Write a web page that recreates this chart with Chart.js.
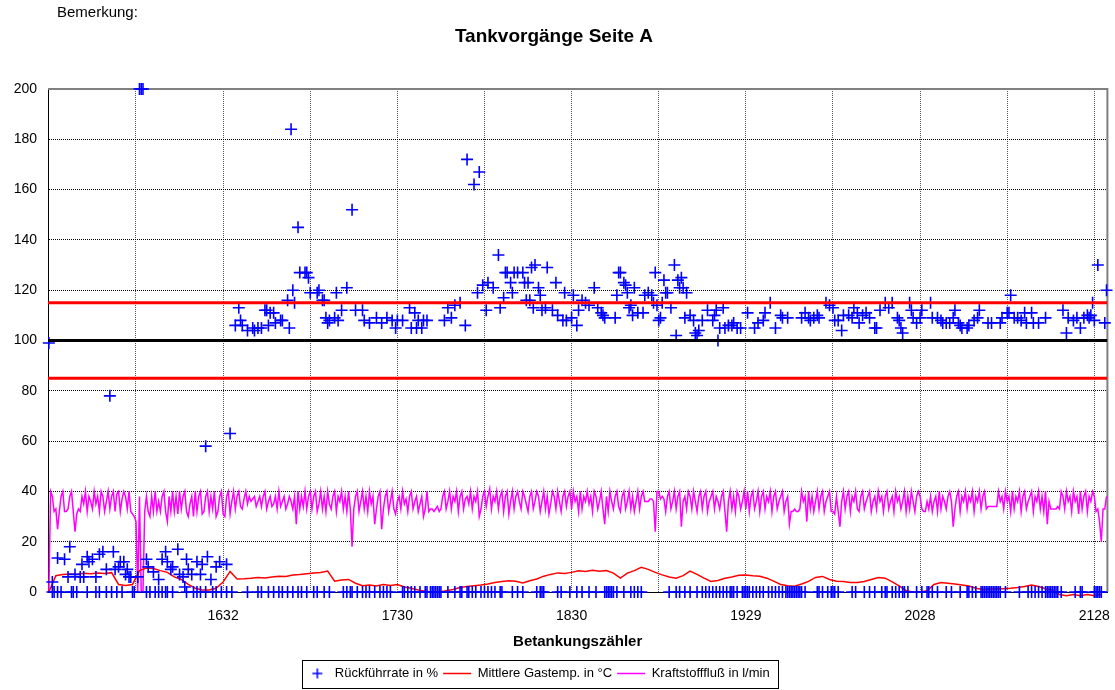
<!DOCTYPE html>
<html lang="de">
<head>
<meta charset="utf-8">
<title>Tankvorgänge Seite A</title>
<script src="https://cdn.jsdelivr.net/npm/chart.js@4.4.1/dist/chart.umd.min.js"></script>
<style>
  html, body { margin: 0; padding: 0; background: #fff; }
</style>
</head>
<body>
<canvas id="tankChart" width="1115" height="690"></canvas>
<script>
// Position im Ausschnitt (laufende Nummer der Betankung), Beschriftung = Zählerstand
const gridPos = [50, 100, 150, 200, 250, 300, 350, 400, 450, 500, 550, 600];
const tickPos = [100, 200, 300, 400, 500, 600];
const tickLabels = ['1632', '1730', '1830', '1929', '2028', '2128'];

// Grenzlinien in %
const limits = [85, 100, 115];

// Rückführrate in % : [Position, Wert]
const ruckPoints = [
  [0,99],[2,4],[5,13.5],[9,13],[11,6],[12,18],[15,7],[18,6],[19,11],[20,6],[22,14],[23,12],[25,13],[27,6],[29,15],
  [31,16],[33,9],[35,78],[37,16],[38,9],[40,10],[41,12],[43,12],[44,7],[45,9],[46,6],[47,6],[51,6],[52,200],[53,200],
  [54,200],[56,13],[57,10],[60,8],[63,5],[65,13],[67,16],[68,12],[70,9],[71,10],[74,17],[75,7],[77,6],[78,2],[79,13],
  [80,9],[82,7],[85,12],[87,7],[88,11],[90,58],[91,14],[93,5],[96,10],[98,12],[102,11],[104,63],
  [107,106],[109,113],[110,108],[111,106],[114,104],[117,105],[118,104],[120,105],[122,105],[124,112],[125,112],
  [126,106],[127,111],[129,111],[130,107],[133,108],[134,108],[137,116],[138,105],[139,184],[140,120],[141,115],
  [143,145],[144,127],[147,127],[148,127],[149,125],[150,119],[154,119],[155,120],[157,116],[158,116],[159,109],
  [160,107],[161,108],[164,109],[165,119],[166,108],[168,112],[171,121],[174,152],[176,112],[180,112],[181,108],
  [184,107],[188,109],[191,107],[194,109],[197,108],[199,105],[200,108],[203,108],[207,113],[208,105],[210,111],
  [211,105],[212,108],[214,105],[215,108],[217,108],[227,108],[229,113],[231,109],[233,114],[236,115],[239,106],
  [240,172],[244,162],[246,119],[247,167],[249,122],[251,112],[252,123],[255,121],[258,134],[259,113],[261,117],
  [262,127],[263,127],[265,123],[266,119],[267,127],[269,127],[272,127],[273,123],[274,116],[275,123],[276,116],
  [277,129],[278,113],[279,130],[281,121],[282,118],[283,112],[285,113],[286,129],[289,112],[291,123],[292,110],
  [295,108],[296,119],[297,108],[300,109],[301,118],[303,106],[304,112],[306,116],[308,115],[310,114],[313,121],
  [315,113],[317,111],[318,110],[319,109],[325,109],[326,118],[327,127],[328,127],[330,123],[331,122],[332,119],
  [333,113],[334,114],[335,110],[336,121],[338,111],[341,111],[342,118],[344,119],[346,118],[347,115],[348,127],
  [349,114],[350,108],[351,109],[352,115],[353,124],[354,119],[355,119],[357,113],[359,130],[360,102],[361,124],
  [362,121],[363,125],[364,121],[365,109],[366,119],[368,110],[370,108],[371,103],[372,102],[373,104],[375,108],
  [378,112],[381,108],[382,110],[383,112],[384,100],[385,105],[387,113],[388,105],[390,106],[392,106],[393,107],
  [395,105],[397,105],[401,111],[405,105],[407,107],[410,108],[411,111],[414,115],[417,105],[420,110],[421,109],
  [424,109],[432,109],[434,111],[436,109],[437,108],[439,109],[441,110],[442,109],[446,115],[448,114],[450,113],
  [451,108],[453,108],[455,104],[456,110],[459,110],[461,109],[462,113],[464,111],[465,107],[467,110],[469,111],
  [471,109],[474,105],[475,105],[477,112],[480,115],[482,113],[484,115],[487,109],[488,108],[489,105],[490,103],
  [494,115],[495,112],[496,109],[498,107],[500,109],[501,112],[506,115],[507,109],[510,109],[512,108],[513,107],
  [515,107],[517,107],[519,109],[520,112],[522,107],[523,106],[524,105],[527,105],[528,106],[531,108],[533,109],
  [534,112],[539,107],[541,107],[546,107],[547,109],[550,111],[551,111],[552,118],[554,109],[556,109],[558,108],
  [560,111],[561,107],[564,111],[565,107],[568,107],[572,109],[582,112],[584,103],[585,109],[588,108],[590,109],
  [592,105],[594,109],[596,110],[597,109],[598,110],[599,115],[600,108],[602,130],[606,107],[607,120]
];
// Positionen mit Rückführrate 0 %
const ruckZero = [
  2,3,5,7,13,14,16,22,27,29,33,36,39,42,48,49,56,58,61,63,65,67,68,71,79,83,85,87,90,94,96,99,102,105,114,120,
  122,126,129,132,134,137,140,143,145,148,152,154,158,161,169,171,173,174,177,180,182,184,187,190,192,194,196,
  203,204,206,208,210,213,216,217,219,220,221,222,223,224,225,229,233,236,237,240,241,243,245,248,250,252,254,
  256,259,260,266,269,272,280,282,283,284,292,294,299,303,306,310,314,319,320,321,322,323,324,326,330,334,336,
  338,340,356,360,362,365,368,372,375,377,379,381,383,385,387,389,391,392,393,395,398,399,400,401,402,404,406,
  408,410,413,415,417,419,421,423,424,425,426,427,428,429,430,431,432,434,441,442,444,447,449,450,451,453,461,
  463,468,471,474,478,480,481,484,486,488,490,491,493,498,501,504,505,507,510,515,518,523,527,528,530,532,535,
  536,537,538,539,540,541,542,543,544,545,546,549,557,562,564,566,568,570,572,573,574,575,576,577,578,579,581,
  589,592,593,600,601,602,603,604
];

// Mittlere Gastemperatur in °C, jede 4. Position
const GAS_STEP = 4;
const gasTemp = [
  0,6.5,7,7.2,7,7.5,7.3,7.6,7.4,7.7, 3,2.6,3,8.5,9.5,9.3,8.5,7.8,6,5,
  3,1.5,0.8,0.8,1.5,4,8.2,5.2,5.3,5.5, 5.8,5.6,6,6.3,6.2,6.8,7,7.3,7.6,7.8,
  8.3,4.3,4.8,5,3.5,2.5,2.8,2.4,3,2.6, 3,2,1.5,0.8,0.3,0,0,0.5,1,1.8,
  2.2,2.5,2.8,3.2,3.8,4.2,4.5,4.3,3.6,4.5, 5.2,6.3,7,7.6,7.4,7.8,8.4,8.2,8.6,8.3,
  8.5,7.5,5.5,7.5,8.5,9.8,9,7.8,6.8,6, 5.5,6.5,8.3,7,5.5,4.2,4.6,5.5,6,6.7,
  6.8,6.5,6.3,5.5,4.3,3,2.5,2.3,3.2,4.2, 5.8,6.2,5,4.3,4.2,3.8,3.8,4.2,5,5.8,
  5.5,4,2.4,0.5,0,0,0.5,3,3.8,3.5, 3.2,2.8,2.4,1.5,1,1.2,1.3,1.3,1.5,1.8,
  2.2,2.8,2.2,1.3,0.7,-1,-1.5,-1,-1.5,-1, -1.5,-1
];

// Kraftstofffluß in l/min, jede Position
const flow = [
  0,40,38,32,33,25,32,38,40,32, 32,33,38,40,32,24,31,33,32,38, 35,40,32,38,36,33,40,35,38,32, 40,38,32,36,40,33,38,40,32,39, 40,32,37,40,38,33,40,32,31,30,
  28,0,38,0,0,32,38,32,30,38, 32,40,32,36,32,38,40,32,28,38, 32,40,32,38,31,40,33,38,40,32, 30,35,38,30,40,32,38,40,31,32, 38,40,32,38,33,40,30,32,38,40,
  31,30,38,40,31,36,40,33,38,40, 34,33,37,40,35,38,36,37,38,34, 36,38,34,38,40,33,36,38,34,35, 38,33,40,34,36,38,33,35,38,36, 33,38,27,40,33,38,34,40,33,38,
  40,33,38,40,32,35,40,33,38,32, 40,35,33,38,40,32,38,36,40,33, 38,32,40,33,18,33,38,40,32,36, 40,33,38,32,40,35,38,27,33,38, 40,25,33,38,40,32,36,40,33,31,
  36,38,33,40,35,37,32,38,40,33, 36,38,32,35,38,30,33,40,32,33, 33,32,33,34,32,33,38,40,33,36, 40,33,38,36,40,32,38,40,33,37, 38,35,40,33,38,36,40,30,33,38,
  40,34,38,41,33,38,36,40,33,38, 40,32,38,40,31,36,40,33,38,40, 36,33,40,38,35,32,38,40,33,36, 40,38,32,36,40,33,38,31,35,40, 38,33,40,36,32,38,40,34,38,40,
  33,40,36,38,32,40,33,38,36,40, 35,38,32,40,38,33,36,40,33,27, 38,32,40,36,33,38,40,34,32,38, 40,33,36,40,33,38,32,36,40,33, 38,40,36,36,36,37,37,36,24,40,
  40,37,38,37,32,38,40,33,36,40, 33,38,40,26,36,38,33,40,38,33, 40,36,32,38,40,33,38,40,32,36, 38,40,33,38,36,33,38,40,32,24, 36,40,33,38,32,40,38,33,36,40,
  33,40,32,38,40,33,36,40,32,38, 40,33,38,36,40,32,38,40,33,36, 38,40,32,36,38,27,32,32,33,32, 32,33,40,36,38,28,40,33,38,32, 36,40,33,38,40,32,36,38,40,32,
  32,31,38,32,26,36,40,33,38,40, 32,38,36,40,33,32,38,40,33,36, 38,40,32,36,38,33,40,36,38,32, 38,40,33,36,38,32,40,36,38,33, 36,40,32,38,33,40,36,32,38,40,
  38,33,32,32,36,33,38,32,36,38, 32,40,33,38,36,33,38,40,36,26, 33,38,40,32,38,36,40,33,38,36, 40,32,38,36,40,33,38,40,33,34, 34,34,34,34,34,40,36,38,33,40,
  36,38,32,40,33,38,36,40,32,38, 40,33,36,38,40,32,38,36,40,33, 38,32,40,27,36,33,33,33,33,34, 33,40,38,33,40,36,38,32,40,36, 38,31,40,33,38,40,32,38,36,40,
  38,32,33,28,20,33,33,38
];

Chart.defaults.font.family = "'Liberation Sans', Arial, sans-serif";
Chart.defaults.font.size = 14;
Chart.defaults.color = '#000';

const ruckData = ruckPoints.map(p => ({x: p[0], y: p[1]}))
  .concat(ruckZero.map(i => ({x: i, y: 0})))
  .sort((a, b) => a.x - b.x);

// kleines Kreuz fuer die Legende
const legendCross = document.createElement('canvas');
legendCross.width = 28;
legendCross.height = 14;
const lc = legendCross.getContext('2d');
lc.strokeStyle = '#0000ff';
lc.lineWidth = 1.5;
lc.beginPath();
lc.moveTo(12, 7); lc.lineTo(22, 7);
lc.moveTo(17, 2); lc.lineTo(17, 12);
lc.stroke();

const extras = {
  id: 'extras',
  afterLayout(chart) {
    // Legende etwas nach links, wie im Original
    chart.legend.left -= 19;
    chart.legend.right -= 19;
  },
  beforeDatasetsDraw(chart) {
    const {ctx, chartArea: a} = chart;
    ctx.save();
    ctx.strokeStyle = '#808080';
    ctx.lineWidth = 2;
    ctx.beginPath();
    ctx.moveTo(a.left, a.top);
    ctx.lineTo(a.right, a.top);
    ctx.lineTo(a.right, a.bottom);
    ctx.stroke();
    ctx.restore();
  },
  afterDraw(chart) {
    const {ctx, legend} = chart;
    ctx.save();
    ctx.font = "15px 'Liberation Sans', Arial, sans-serif";
    ctx.fillStyle = '#000';
    ctx.textBaseline = 'middle';
    ctx.fillText('Bemerkung:', 57, 13);
    const boxes = legend.legendHitBoxes;
    if (boxes && boxes.length) {
      const last = boxes[boxes.length - 1];
      const l = Math.round(boxes[0].left + 2) + 0.5;
      const r = Math.round(last.left + last.width + 8) + 0.5;
      ctx.strokeStyle = '#000';
      ctx.lineWidth = 1;
      ctx.strokeRect(l, legend.top - 1.5, r - l, legend.bottom - legend.top);
    }
    ctx.restore();
  }
};

const limitSets = limits.map(v => ({
  label: '',
  data: [{x: -0.5, y: v}, {x: 607.5, y: v}],
  borderColor: v === 100 ? '#000000' : '#ff0000',
  borderWidth: 3,
  pointRadius: 0,
  order: 0
}));

new Chart(document.getElementById('tankChart'), {
  type: 'line',
  data: {
    datasets: [
      {
        label: 'Rückführrate in %',
        data: ruckData,
        showLine: false,
        pointStyle: 'cross',
        pointRadius: 6,
        pointBorderWidth: 1.6,
        borderColor: '#0000ff',
        backgroundColor: '#0000ff',
        clip: false,
        order: 1
      },
      {
        label: 'Mittlere Gastemp. in °C',
        data: gasTemp.map((v, k) => ({x: k * GAS_STEP, y: v})),
        borderColor: '#ff0000',
        borderWidth: 1.5,
        pointRadius: 0,
        pointStyle: 'line',
        clip: false,
        order: 2
      },
      {
        label: 'Kraftstofffluß in l/min',
        data: flow.map((v, i) => ({x: i, y: v})),
        borderColor: '#ff00ff',
        borderWidth: 1.5,
        pointRadius: 0,
        pointStyle: 'line',
        order: 3
      },
      ...limitSets
    ]
  },
  options: {
    responsive: false,
    animation: false,
    events: [],
    layout: { padding: { left: 0, right: 7, top: 0, bottom: 0 } },
    scales: {
      x: {
        type: 'linear',
        min: -0.5,
        max: 607.5,
        afterBuildTicks(scale) { scale.ticks = gridPos.map(v => ({value: v})); },
        afterFit(scale) {
          scale.height = 70;
          scale.paddingLeft = 0;
          scale.paddingRight = 0;
        },
        ticks: {
          autoSkip: false,
          maxRotation: 0,
          padding: 16,
          callback(v) { const k = tickPos.indexOf(v); return k < 0 ? '' : tickLabels[k]; }
        },
        grid: { color: '#555555', lineWidth: 1, drawTicks: false },
        border: { display: true, color: '#000', width: 1, dash: [1, 1] },
        title: {
          display: true,
          text: 'Betankungszähler',
          font: { size: 15, weight: 'bold' },
          padding: { top: 4, bottom: 11 }
        }
      },
      y: {
        min: 0,
        max: 200,
        afterFit(scale) { scale.width = 48; },
        ticks: { stepSize: 20, padding: 11 },
        grid: { color: '#000', lineWidth: 1, drawTicks: false },
        border: { display: true, color: '#000', width: 1, dash: [1, 1] }
      }
    },
    plugins: {
      tooltip: { enabled: false },
      title: {
        display: true,
        text: 'Tankvorgänge Seite A',
        color: '#000',
        font: { size: 19, weight: 'bold' },
        padding: { top: 25.6, bottom: 40.6 }
      },
      legend: {
        position: 'bottom',
        labels: {
          usePointStyle: true,
          pointStyleWidth: 28,
          boxHeight: 13,
          padding: 5,
          color: '#000',
          font: { size: 13 },
          filter: item => item.datasetIndex < 3,
          generateLabels(chart) {
            const items = Chart.defaults.plugins.legend.labels.generateLabels(chart);
            items.forEach(it => { if (it.datasetIndex === 0) it.pointStyle = legendCross; });
            return items;
          }
        }
      }
    }
  },
  plugins: [extras]
});
</script>
</body>
</html>
